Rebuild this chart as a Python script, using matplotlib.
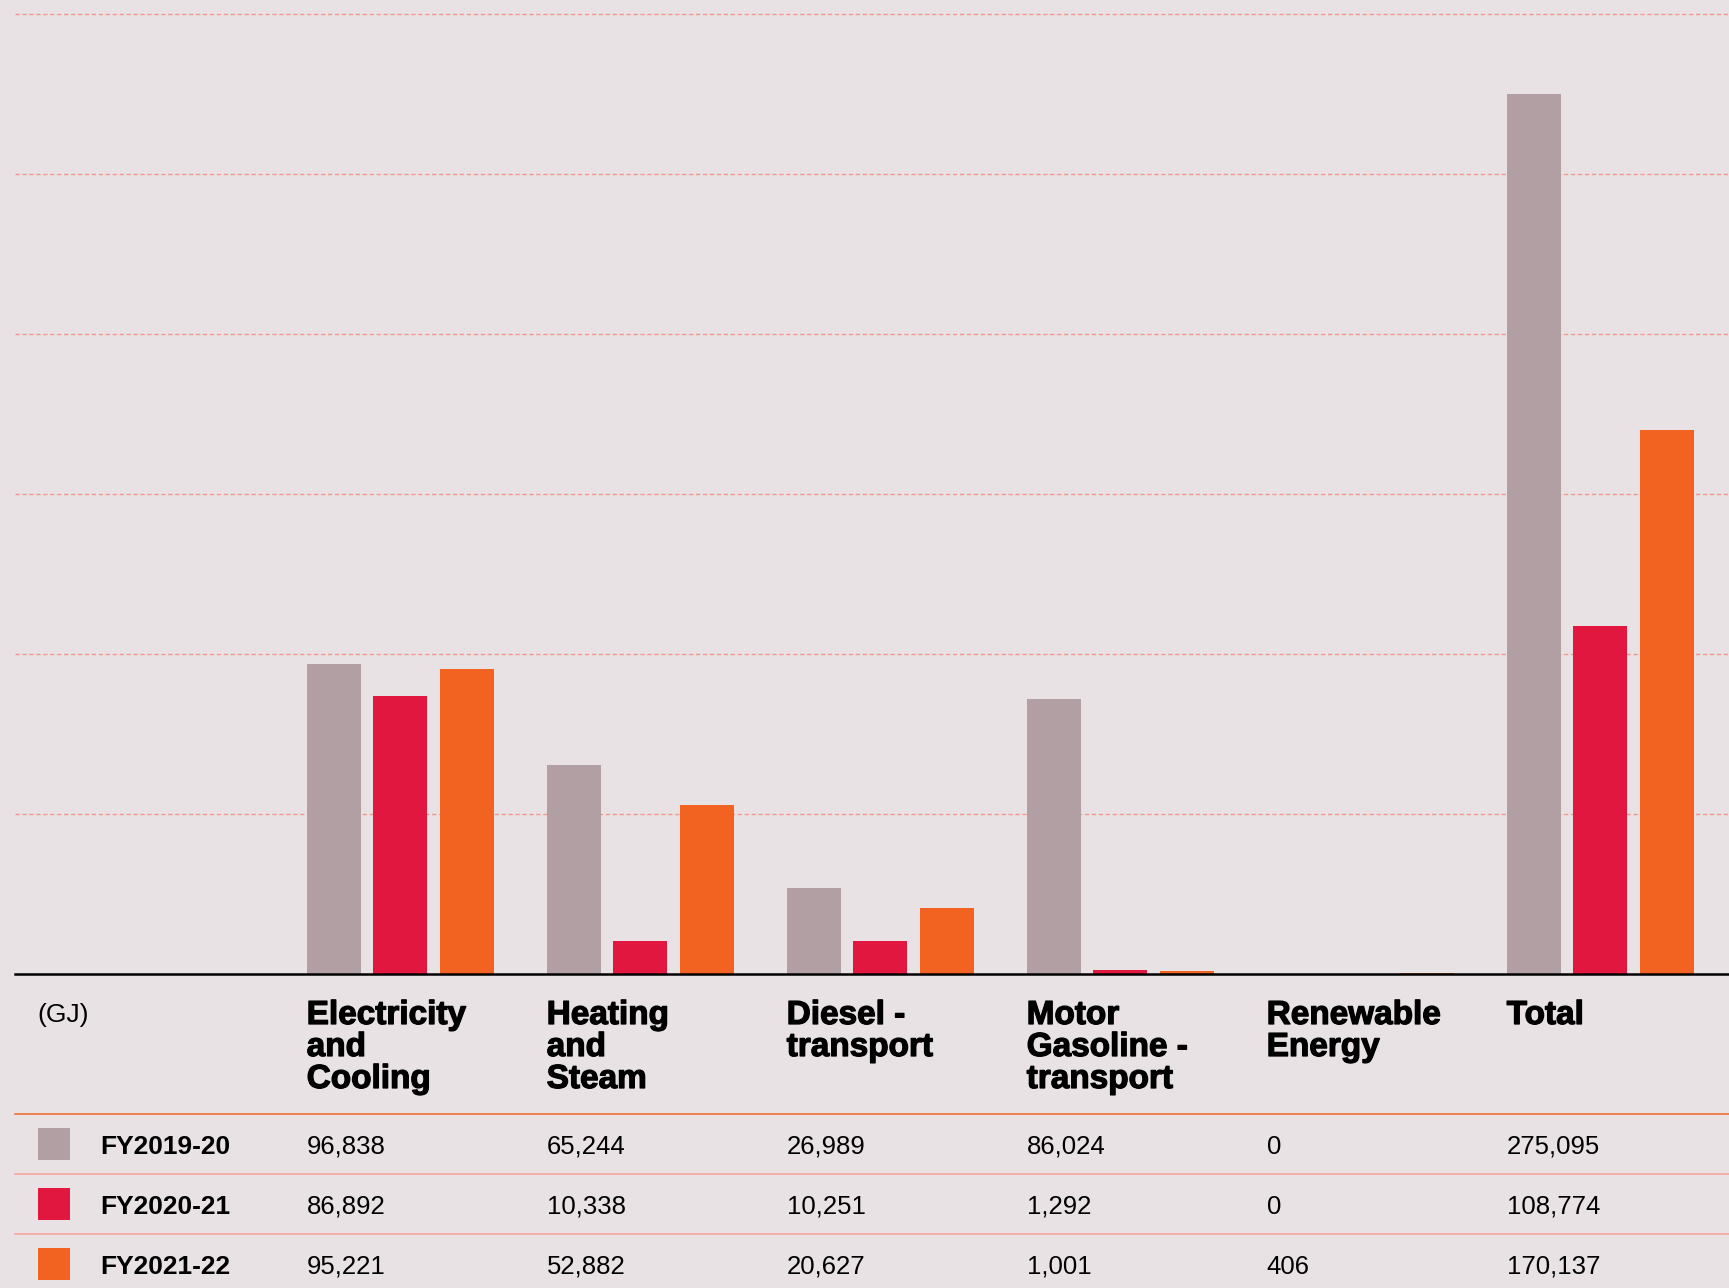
import matplotlib
matplotlib.use("Agg")
import matplotlib.pyplot as plt
import matplotlib.patheffects as pe
from matplotlib.patches import Rectangle
from matplotlib.lines import Line2D
from matplotlib.transforms import Affine2D, blended_transform_factory

# Energy consumption by source, in GJ
CATEGORIES = [
    "Electricity\nand\nCooling",
    "Heating\nand\nSteam",
    "Diesel -\ntransport",
    "Motor\nGasoline -\ntransport",
    "Renewable\nEnergy",
    "Total",
]
YEARS = ["FY2019-20", "FY2020-21", "FY2021-22"]
FY2019_20 = [96838, 65244, 26989, 86024, 0, 275095]
FY2020_21 = [86892, 10338, 10251, 1292, 0, 108774]
FY2021_22 = [95221, 52882, 20627, 1001, 406, 170137]
UNIT = "(GJ)"

COLORS = ["#B19FA3", "#E2173F", "#F26322"]
BG = "#E8E2E4"
GRID = "#F4978A"
RULE_HEAD = "#F26322"
RULE_ROW = "#F7A093"

W, H = 1729, 1288          # canvas size in px
PITCH = 240.0              # px between category columns
FIRST_COL = 306.7          # px, left edge of first category column
BASELINE = 974.0           # px from top
PX_PER_50K = 160.0


def px_transform(fig):
    """Pixel coordinates measured from the top-left corner of the figure."""
    return Affine2D().scale(1 / W, -1 / H).translate(0, 1) + fig.transFigure


def build_axes(fig):
    left = 15.0
    ax = fig.add_axes([left / W, (H - BASELINE) / H, (W - left) / W, BASELINE / H])
    ax.set_facecolor(BG)
    ax.set_xlim((left - FIRST_COL) / PITCH, (W - FIRST_COL) / PITCH)
    ax.set_ylim(0, 50000 * BASELINE / PX_PER_50K)
    ax.set_yticks(range(50000, 300001, 50000))
    ax.yaxis.grid(True, color=GRID, linestyle=(0, (3, 2)), linewidth=1.0)
    ax.set_axisbelow(True)
    ax.tick_params(left=False, labelleft=False, bottom=False, labelbottom=False)
    for side in ("top", "left", "right"):
        ax.spines[side].set_visible(False)
    ax.spines["bottom"].set_color("black")
    ax.spines["bottom"].set_linewidth(1.8)
    return ax


def draw_bars(ax, series):
    bar_w = 54 / PITCH
    step = 66.5 / PITCH
    for j, (values, color) in enumerate(zip(series, COLORS)):
        xs = [i + j * step for i in range(len(values))]
        ax.bar(xs, values, width=bar_w, align="edge", color=color,
               linewidth=0, zorder=2)


def draw_table(fig, ax, series):
    px = px_transform(fig)
    col = blended_transform_factory(ax.transData, px)
    heavy = [pe.withStroke(linewidth=0.9, foreground="black")]

    # header row
    fig.text(37.7, 1022, UNIT, transform=px, fontsize=19, va="baseline")
    for i, name in enumerate(CATEGORIES):
        for k, line in enumerate(name.split("\n")):
            ax.text(i, 1024 + 32 * k, line, transform=col, fontsize=24,
                    fontweight="bold", va="baseline", ha="left",
                    clip_on=False, path_effects=heavy)

    # rules
    fig.add_artist(Line2D([15, W], [1114.3, 1114.3], transform=px,
                          color=RULE_HEAD, linewidth=1.1))
    for y in (1174.3, 1234.3):
        fig.add_artist(Line2D([15, W], [y, y], transform=px,
                              color=RULE_ROW, linewidth=1.1))

    # value rows with colour keys
    for r, (year, values, color) in enumerate(zip(YEARS, series, COLORS)):
        y = 1154 + 60 * r
        fig.add_artist(Rectangle((38, y - 26), 32, 32, transform=px,
                                 facecolor=color, edgecolor="none"))
        fig.text(100.7, y, year, transform=px, fontsize=19,
                 fontweight="bold", va="baseline")
        for i, v in enumerate(values):
            ax.text(i, y, f"{v:,}", transform=col, fontsize=18.5,
                    va="baseline", ha="left", clip_on=False)


def main():
    plt.rcParams["font.family"] = ["Liberation Sans", "DejaVu Sans"]
    fig = plt.figure(figsize=(W / 100, H / 100), dpi=100, facecolor=BG)
    series = [FY2019_20, FY2020_21, FY2021_22]
    ax = build_axes(fig)
    draw_bars(ax, series)
    draw_table(fig, ax, series)
    fig.savefig("out.png", dpi=100, facecolor=BG)


if __name__ == "__main__":
    main()
